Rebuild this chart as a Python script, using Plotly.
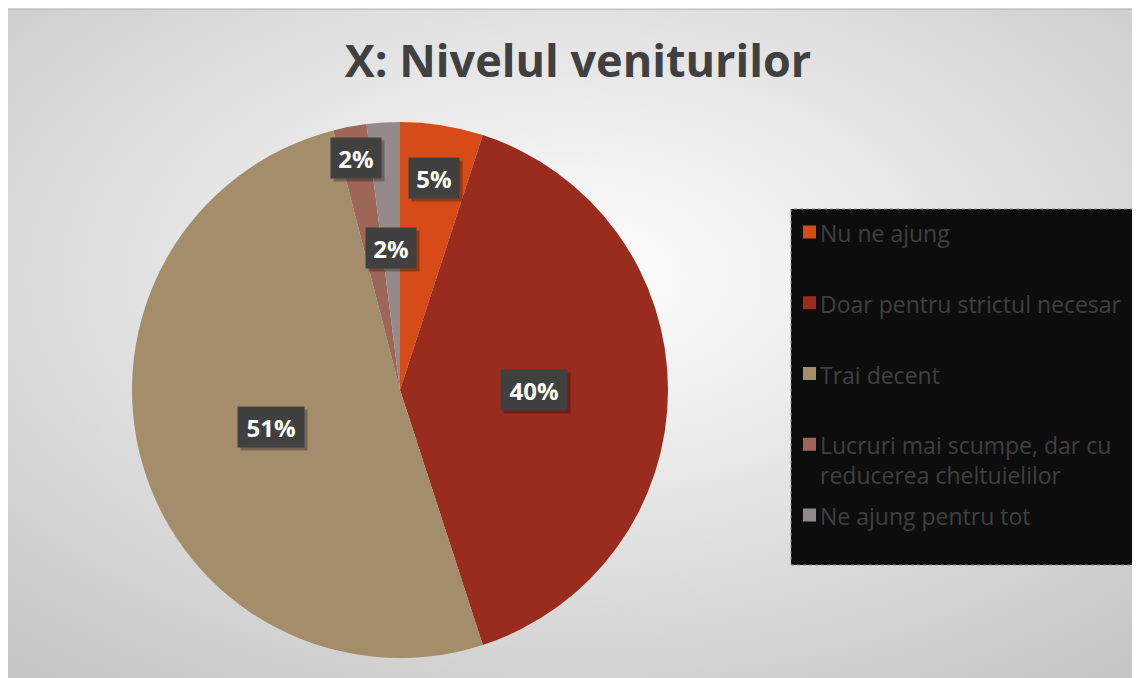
import math
import base64
import plotly.graph_objects as go

# ---- data ----
categories = ["Nu ne ajung", "Doar pentru strictul necesar", "Trai decent",
              "Lucruri mai scumpe, dar cu<br>reducerea cheltuielilor", "Ne ajung pentru tot"]
values = [5, 40, 51, 2, 2]
colors = ["#D64B17", "#9A2C1E", "#A48D6B", "#9D6656", "#958A8A"]
label_radius = [0.80, 0.50, 0.50, 0.88, 0.53]  # label placement (fraction of radius)

# figure size (page body margin of 8px offsets it)
W, H = 1132, 670
OX, OY = 8, 8


def px(x):
    return (x - OX) / W


def py(y):
    return 1 - (y - OY) / H


# pie geometry in screen pixels
cx, cy, R = 400, 390, 268

fig = go.Figure()
fig.add_trace(go.Pie(
    labels=categories, values=values, sort=False, direction="clockwise", rotation=0,
    marker=dict(colors=colors, line=dict(width=0)),
    textinfo="none", hoverinfo="label+percent", showlegend=False,
    domain=dict(x=[px(cx - R), px(cx + R)], y=[py(cy + R), py(cy - R)]),
))

# background gradient
svg = ("<svg xmlns='http://www.w3.org/2000/svg' width='1132' height='670'>"
       "<defs><radialGradient id='g' cx='50%' cy='40%' r='75%'>"
       "<stop offset='0' stop-color='#ffffff'/><stop offset='1' stop-color='#c6c6c6'/>"
       "</radialGradient></defs><rect width='100%' height='100%' fill='url(#g)'/></svg>")
src = "data:image/svg+xml;base64," + base64.b64encode(svg.encode()).decode()
fig.add_layout_image(dict(source=src, xref="paper", yref="paper", x=0, y=1,
                          sizex=1, sizey=1, xanchor="left", yanchor="top",
                          sizing="stretch", layer="below"))

shapes = [dict(type="line", xref="paper", yref="paper", x0=0, x1=1, y0=py(9.5), y1=py(9.5),
               line=dict(color="#c4c4c4", width=1))]
annotations = []

# percentage labels
total = sum(values)
cum = 0
for v, rf in zip(values, label_radius):
    mid = (cum + v / 2) / total * 2 * math.pi
    cum += v
    lx = cx + rf * R * math.sin(mid)
    ly = cy - rf * R * math.cos(mid)
    txt = f"{round(v / total * 100)}%"
    bw = 16 * (len(txt) - 1) + 22
    common = dict(xref="paper", yref="paper", x=px(lx), y=py(ly), showarrow=False,
                  xanchor="center", yanchor="middle", borderpad=6, width=bw, height=28)
    annotations.append(dict(text=" ", font=dict(family="Open Sans", size=24, color="rgba(0,0,0,0)"),
                            bgcolor="rgba(0,0,0,0.28)", xshift=3, yshift=-3, **common))
    annotations.append(dict(text=f"<b>{txt}</b>", font=dict(family="Open Sans", size=24, color="#ffffff"),
                            bgcolor="#404040", **common))

# legend box
lx0, lx1, ly0, ly1 = 791, 1135, 209, 565
shapes.append(dict(type="rect", xref="paper", yref="paper", x0=px(lx0), x1=px(lx1),
                   y0=py(ly1), y1=py(ly0), fillcolor="#0d0d0d",
                   line=dict(color="#8a8a8a", width=1, dash="dot")))
y_first, step = 232, 70.75
for i, (lab, col) in enumerate(zip(categories, colors)):
    yc = y_first + step * i
    shapes.append(dict(type="rect", xref="paper", yref="paper", x0=px(803), x1=px(816),
                       y0=py(yc + 6.5), y1=py(yc - 6.5), fillcolor=col, line=dict(width=0)))
    annotations.append(dict(text=lab, xref="paper", yref="paper", x=px(818), y=py(yc - 17),
                            xanchor="left", yanchor="top", align="left", showarrow=False,
                            font=dict(family="Open Sans", size=23, color="#404040")))

fig.update_layout(
    width=W, height=H, margin=dict(l=0, r=0, t=0, b=0),
    paper_bgcolor="#ffffff",
    title=dict(text="<b>X: Nivelul veniturilor</b>", x=px(578), y=py(61), xanchor="center",
               yanchor="middle", font=dict(family="Open Sans", size=45, color="#404040")),
    shapes=shapes, annotations=annotations,
)
fig.write_html("out.html")
